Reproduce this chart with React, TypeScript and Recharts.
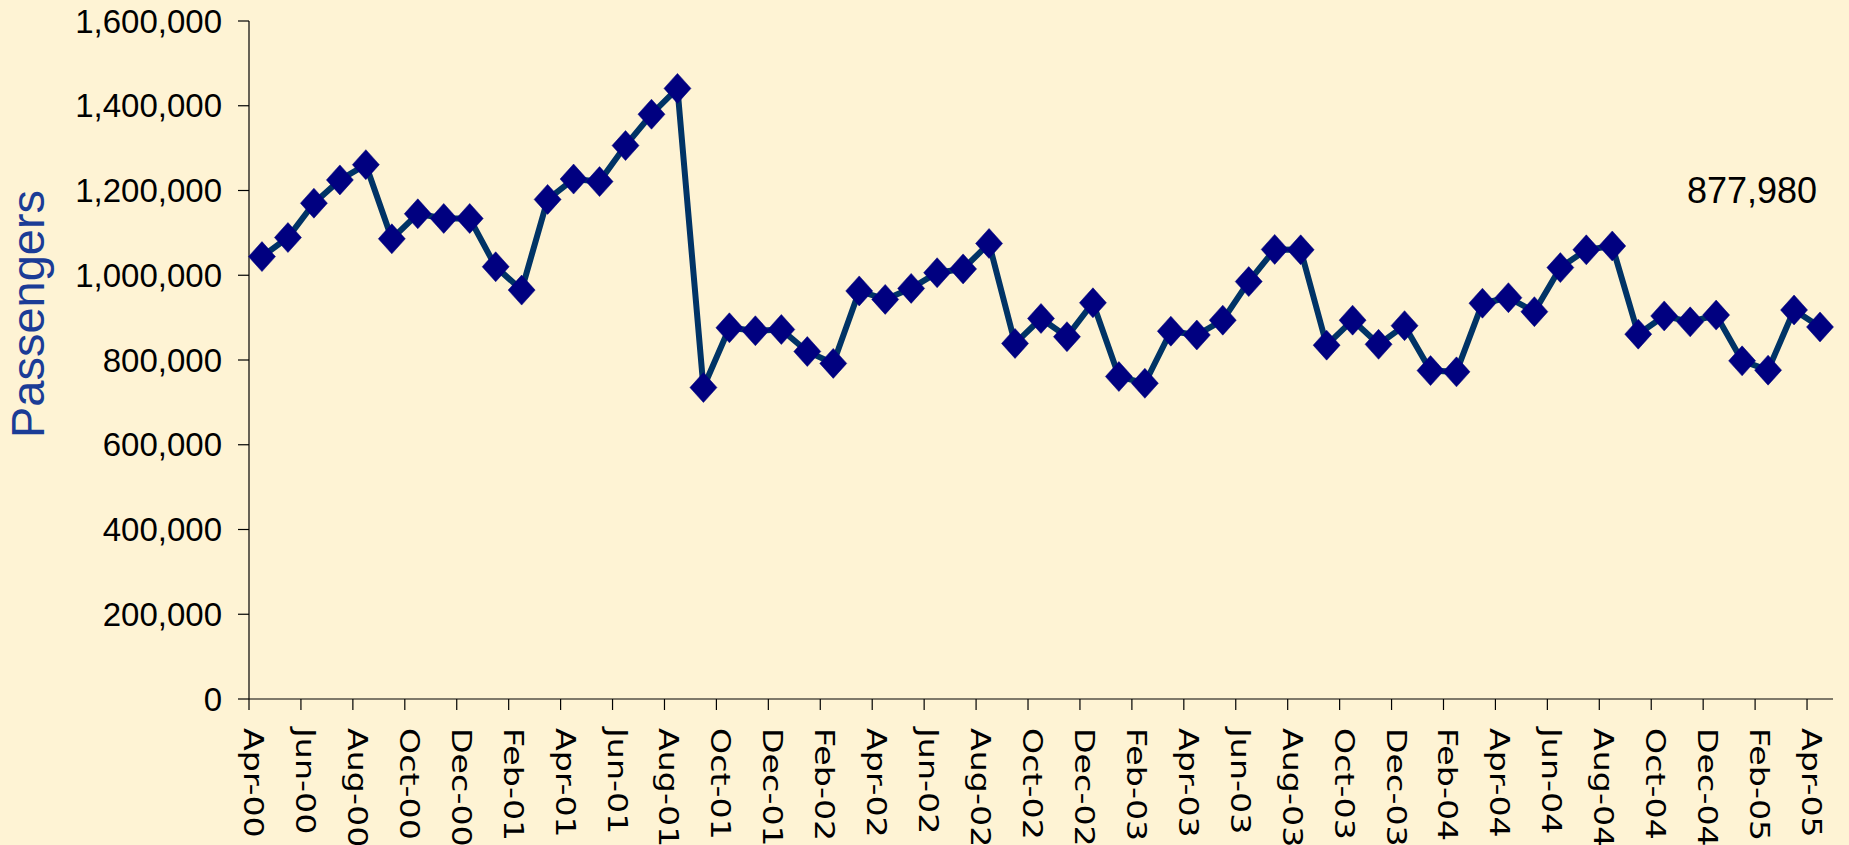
import React from 'react';
import { LineChart, Line, XAxis, YAxis, LabelList, Label } from 'recharts';

// ---- data ----
const MONTHS_2000 = ['Apr-00', 'May-00', 'Jun-00', 'Jul-00', 'Aug-00', 'Sep-00', 'Oct-00', 'Nov-00', 'Dec-00'];
const MONTHS_2001 = ['Jan-01', 'Feb-01', 'Mar-01', 'Apr-01', 'May-01', 'Jun-01', 'Jul-01', 'Aug-01', 'Sep-01', 'Oct-01', 'Nov-01', 'Dec-01'];
const MONTHS_2002 = ['Jan-02', 'Feb-02', 'Mar-02', 'Apr-02', 'May-02', 'Jun-02', 'Jul-02', 'Aug-02', 'Sep-02', 'Oct-02', 'Nov-02', 'Dec-02'];
const MONTHS_2003 = ['Jan-03', 'Feb-03', 'Mar-03', 'Apr-03', 'May-03', 'Jun-03', 'Jul-03', 'Aug-03', 'Sep-03', 'Oct-03', 'Nov-03', 'Dec-03'];
const MONTHS_2004 = ['Jan-04', 'Feb-04', 'Mar-04', 'Apr-04', 'May-04', 'Jun-04', 'Jul-04', 'Aug-04', 'Sep-04', 'Oct-04', 'Nov-04', 'Dec-04'];
const MONTHS_2005 = ['Jan-05', 'Feb-05', 'Mar-05', 'Apr-05'];

const PAX_2000 = [1044000, 1089000, 1170000, 1225000, 1261000, 1086000, 1145000, 1134000, 1134000];
const PAX_2001 = [1020000, 965000, 1179000, 1227000, 1221000, 1306000, 1380000, 1441000, 735000, 876000, 869000, 872000];
const PAX_2002 = [820000, 792000, 963000, 943000, 969000, 1006000, 1015000, 1075000, 839000, 898000, 855000, 935000];
const PAX_2003 = [761000, 745000, 868000, 859000, 894000, 985000, 1061000, 1060000, 835000, 894000, 837000, 881000];
const PAX_2004 = [775000, 772000, 934000, 947000, 914000, 1018000, 1060000, 1069000, 861000, 904000, 890000, 906000];
const PAX_2005 = [798000, 776000, 918000, 877980];

const Y_TICKS = [0, 200000, 400000, 600000, 800000, 1000000, 1200000, 1400000, 1600000];
const Y_TITLE = 'Passengers';

const MONTHS = [...MONTHS_2000, ...MONTHS_2001, ...MONTHS_2002, ...MONTHS_2003, ...MONTHS_2004, ...MONTHS_2005];
const PAX = [...PAX_2000, ...PAX_2001, ...PAX_2002, ...PAX_2003, ...PAX_2004, ...PAX_2005];
const data = MONTHS.map((m, i) => ({ month: m, passengers: PAX[i] }));

// ---- layout ----
const W = 1849;
const H = 845;
const PLOT_LEFT = 249;
const PLOT_RIGHT = 1833;
const PLOT_TOP = 21;
const PLOT_BOTTOM = 699;
const HALF = (PLOT_RIGHT - PLOT_LEFT) / data.length / 2;

const BG = '#FEF3D4';
const LINE = '#003366';
const MARK = '#000080';
const TITLE_BLUE = '#1B3C96';

const fmt = (v: number) => v.toLocaleString('en-US');

const XTick = (props: any) => {
  const { x, payload } = props;
  const tx = x - HALF;
  return (
    <g>
      <line x1={tx} y1={PLOT_BOTTOM} x2={tx} y2={PLOT_BOTTOM + 11} stroke="#000" strokeWidth={1.2} />
      <text
        transform={`translate(${tx - 5},${PLOT_BOTTOM + 29}) rotate(90) scale(1.28,1)`}
        x={0}
        y={0}
        fontSize={26}
        fontFamily="'DejaVu Sans', Verdana, sans-serif"
        fill="#000"
        textAnchor="start"
      >
        {payload.value}
      </text>
    </g>
  );
};

const Diamond = (props: any) => {
  const { cx, cy, index } = props;
  if (cx == null || cy == null) return <g key={index} />;
  const rx = 13.5;
  const ry = 15;
  return (
    <path
      key={index}
      d={`M${cx},${cy - ry} L${cx + rx},${cy} L${cx},${cy + ry} L${cx - rx},${cy} Z`}
      fill={MARK}
      stroke={MARK}
      strokeWidth={0.5}
      strokeLinejoin="round"
    />
  );
};

const LastLabel = (props: any) => {
  const { x, y, value, index } = props;
  if (index !== data.length - 1) return null;
  return (
    <text
      x={x - 3}
      y={y - 124}
      textAnchor="end"
      fontSize={36}
      fontFamily="'Liberation Sans', Arial, sans-serif"
      fill="#000"
    >
      {fmt(value)}
    </text>
  );
};

const YTitle = () => (
  <text
    transform={`translate(44,314) rotate(-90)`}
    x={0}
    y={0}
    textAnchor="middle"
    fontSize={47}
    fontFamily="'Liberation Sans', Arial, sans-serif"
    fill={TITLE_BLUE}
  >
    {Y_TITLE}
  </text>
);

export default function App() {
  return (
    <div style={{ position: 'absolute', left: 0, top: 0, width: W, height: H, background: BG, overflow: 'hidden' }}>
      <LineChart
        width={W}
        height={H}
        data={data}
        margin={{ top: PLOT_TOP, right: W - PLOT_RIGHT, bottom: 0, left: 0 }}
      >
        <XAxis
          dataKey="month"
          height={H - PLOT_BOTTOM}
          interval={1}
          padding={{ left: HALF, right: HALF }}
          tickLine={false}
          axisLine={{ stroke: '#000', strokeWidth: 1.2 }}
          tick={<XTick />}
        />
        <YAxis
          width={PLOT_LEFT}
          domain={[0, 1600000]}
          ticks={Y_TICKS}
          interval={0}
          tickFormatter={fmt}
          tickSize={11}
          tickMargin={16}
          axisLine={{ stroke: '#000', strokeWidth: 1.2 }}
          tickLine={{ stroke: '#000', strokeWidth: 1.2 }}
          tick={{ fontSize: 33, fill: '#000', fontFamily: "'Liberation Sans', Arial, sans-serif" }}
        >
          <Label content={<YTitle />} />
        </YAxis>
        <Line
          type="linear"
          dataKey="passengers"
          stroke={LINE}
          strokeWidth={6}
          dot={<Diamond />}
          activeDot={false}
          isAnimationActive={false}
        >
          <LabelList dataKey="passengers" content={<LastLabel />} />
        </Line>
      </LineChart>
    </div>
  );
}
